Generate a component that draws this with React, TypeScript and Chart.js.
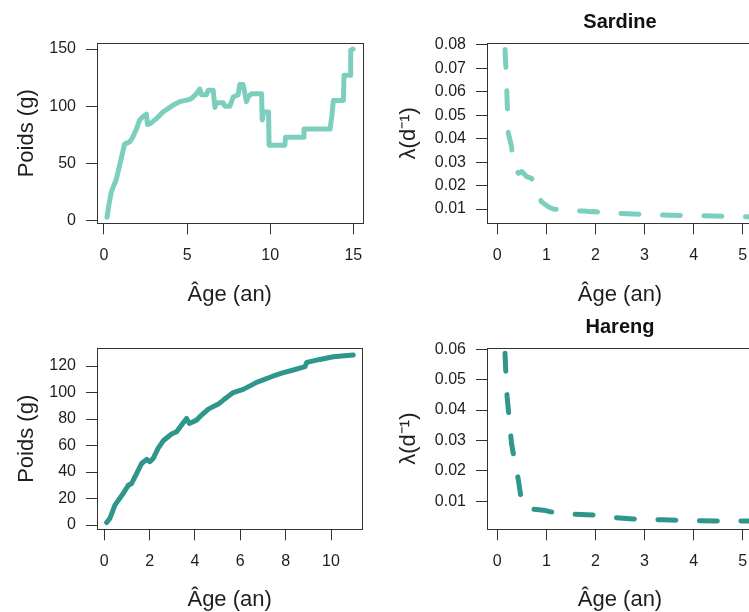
import { useEffect, useRef } from "react";
import { Chart, registerables } from "chart.js";

Chart.register(...registerables);

// ---------------- DATA ----------------
const sardineAge = [0.18, 0.3, 0.44, 0.6, 0.74, 1.0, 1.24, 1.4, 1.55, 1.7, 1.95, 2.15, 2.35, 2.55, 2.62, 2.8, 3.15, 3.55, 4.16, 4.56, 5.16, 5.36, 5.56, 5.76, 5.86, 6.16, 6.27, 6.57, 6.67, 6.77, 7.17, 7.27, 7.57, 7.77, 8.07, 8.17, 8.37, 8.57, 8.67, 8.88, 9.48, 9.52, 9.6, 9.9, 9.93, 10.88, 10.92, 11.99, 12.03, 13.6, 13.7, 13.8, 14.4, 14.44, 14.8, 14.84, 14.98];
const sardineWeight = [3, 14, 25, 31, 36, 52, 67, 68, 69, 72, 80, 88, 91, 93, 84, 85, 89, 95, 101, 104, 106, 108, 111, 115, 110, 110, 114, 114, 99, 103, 103, 100, 100, 108, 110, 119, 119, 104, 108, 111, 111, 88, 95, 95, 66, 66, 73, 73, 80, 80, 91, 105, 105, 127, 127, 149, 150];

const harengAge = [0.1, 0.25, 0.47, 0.84, 1.06, 1.21, 1.43, 1.65, 1.87, 2.01, 2.16, 2.38, 2.6, 2.97, 3.19, 3.41, 3.63, 3.75, 4.07, 4.29, 4.59, 5.03, 5.25, 5.69, 6.13, 6.72, 7.46, 7.9, 8.34, 8.85, 8.93, 9.51, 10.1, 10.98];
const harengWeight = [1.8, 5, 15, 24, 30, 31.4, 39, 46.5, 49.6, 47.8, 50.3, 58, 63.6, 68.7, 70.4, 75.5, 80.5, 76.7, 79.2, 83, 87.5, 91.3, 94.3, 100, 102.4, 107.7, 112.5, 115, 117, 119.5, 122.8, 125, 127, 128.3];

const sardineLambdaAge = [0.157, 0.177, 0.2, 0.225, 0.29, 0.31, 0.36, 0.43, 0.5, 0.6, 0.7, 0.84, 0.9, 1.04, 1.14, 1.55, 1.8, 1.9, 1.96, 2.36, 2.77, 3.38, 4.4, 5.08, 5.3];
const sardineLambda = [0.0781, 0.0693, 0.0565, 0.0423, 0.0366, 0.033, 0.028, 0.0252, 0.026, 0.0238, 0.0231, 0.016, 0.0131, 0.011, 0.01, 0.0093, 0.0091, 0.0088, 0.0089, 0.0082, 0.0079, 0.0074, 0.007, 0.0067, 0.0066];

const harengLambdaAge = [0.157, 0.177, 0.2, 0.245, 0.29, 0.36, 0.43, 0.48, 0.53, 0.67, 0.94, 1.07, 1.48, 1.96, 2.36, 2.77, 3.38, 4.06, 5.08, 5.3];
const harengLambda = [0.0587, 0.051, 0.0444, 0.0367, 0.029, 0.0225, 0.017, 0.0115, 0.0082, 0.0075, 0.0071, 0.0066, 0.0058, 0.0055, 0.0047, 0.0042, 0.0039, 0.0036, 0.0035, 0.0035];

const sardineAgeTicks = [0, 5, 10, 15];
const harengAgeTicks = [0, 2, 4, 6, 8, 10];
const lambdaAgeTicks = [0, 1, 2, 3, 4, 5];
const sardineWeightTicks = [0, 50, 100, 150];
const harengWeightTicks = [0, 20, 40, 60, 80, 100, 120];
const sardineLambdaTicks = [0.01, 0.02, 0.03, 0.04, 0.05, 0.06, 0.07, 0.08];
const harengLambdaTicks = [0.01, 0.02, 0.03, 0.04, 0.05, 0.06];

const titleSardine = "Sardine";
const titleHareng = "Hareng";
const xTitle = "Âge (an)";
const weightTitle = "Poids (g)";
const lambdaTitle = "λ(d⁻¹)";

// ---------------- STYLE ----------------
const W = 770;
const H = 612;
const FONT = "'Liberation Sans', Arial, Helvetica, sans-serif";
const TEXT = "#1e1e1e";
const AXIS = "#333333";
const SARDINE_COLOR = "#7ccfbf";
const HARENG_COLOR = "#2f968b";

type Box = { l: number; t: number; r: number; b: number };
type Spec = {
  xs: number[];
  ys: number[];
  color: string;
  dashed: boolean;
  xMin: number;
  xMax: number;
  yMin: number;
  yMax: number;
  xTicks: number[];
  yTicks: number[];
  yDecimals: number;
  yTitle: string;
  title?: string;
  box: Box;
  axisLeft: number;
  axisBottom: number;
  yTitleX: number;
  xTitleY: number;
  xTickPad: number;
};

function makeChart(canvas: HTMLCanvasElement, s: Spec) {
  const box = s.box;
  const yAxisWidth = box.l - s.axisLeft;
  const xAxisHeight = s.axisBottom - box.b;
  const titleHalf = 11;
  const boxPlugin = {
    id: "rbox",
    afterDraw(chart: any) {
      const { ctx, chartArea } = chart;
      const { left, top, right, bottom } = chartArea;
      ctx.save();
      ctx.strokeStyle = AXIS;
      ctx.lineWidth = 1;
      const l = Math.round(left) + 0.5;
      const t = Math.round(top) + 0.5;
      ctx.strokeRect(l, t, Math.round(right) - Math.round(left), Math.round(bottom) - Math.round(top));
      if (s.title) {
        ctx.font = `bold 20px ${FONT}`;
        ctx.fillStyle = "#111";
        ctx.textAlign = "center";
        ctx.textBaseline = "middle";
        ctx.fillText(s.title, (left + right) / 2, top - 20.5);
      }
      ctx.restore();
    },
  };
  const data = s.xs.map((x, i) => ({ x, y: s.ys[i] }));
  return new Chart(canvas, {
    type: "line",
    data: {
      datasets: [
        {
          data,
          borderColor: s.color,
          borderWidth: 5,
          borderCapStyle: "round",
          borderJoinStyle: "round",
          borderDash: s.dashed ? [18, 23.5] : [],
          pointRadius: 0,
          tension: 0,
          fill: false,
        },
      ],
    },
    options: {
      responsive: false,
      animation: false,
      events: [],
      layout: {
        padding: { left: s.axisLeft, top: box.t, right: W - box.r, bottom: H - s.axisBottom },
      },
      plugins: { legend: { display: false }, tooltip: { enabled: false }, title: { display: false } },
      scales: {
        x: {
          type: "linear",
          position: "bottom",
          min: s.xMin,
          max: s.xMax,
          bounds: "data",
          afterBuildTicks: (sc: any) => {
            sc.ticks = s.xTicks.map((v) => ({ value: v }));
          },
          afterFit: (sc: any) => {
            sc.height = xAxisHeight;
          },
          grid: { display: true, drawOnChartArea: false, drawTicks: true, tickLength: 11, color: AXIS, lineWidth: 1 },
          border: { display: false },
          ticks: {
            autoSkip: false,
            maxRotation: 0,
            padding: s.xTickPad,
            color: TEXT,
            font: { family: FONT, size: 16 },
            callback: (v: any) => String(v),
          },
          title: {
            display: true,
            text: xTitle,
            color: TEXT,
            font: { family: FONT, size: 22, lineHeight: 1 },
            padding: { top: 0, bottom: s.axisBottom - s.xTitleY - titleHalf },
          },
        },
        y: {
          type: "linear",
          position: "left",
          min: s.yMin,
          max: s.yMax,
          bounds: "data",
          afterBuildTicks: (sc: any) => {
            sc.ticks = s.yTicks.map((v) => ({ value: v }));
          },
          afterFit: (sc: any) => {
            sc.width = yAxisWidth;
          },
          grid: { display: true, drawOnChartArea: false, drawTicks: true, tickLength: 11, color: AXIS, lineWidth: 1 },
          border: { display: false },
          ticks: {
            autoSkip: false,
            padding: 10,
            color: TEXT,
            font: { family: FONT, size: 16 },
            callback: (v: any) => Number(v).toFixed(s.yDecimals),
          },
          title: {
            display: true,
            text: s.yTitle,
            color: TEXT,
            font: { family: FONT, size: 22, lineHeight: 1 },
            padding: { top: s.yTitleX - s.axisLeft - titleHalf, bottom: 0 },
          },
        },
      },
    },
    plugins: [boxPlugin],
  } as any);
}

const specs: Spec[] = [
  {
    xs: sardineAge,
    ys: sardineWeight,
    color: SARDINE_COLOR,
    dashed: false,
    xMin: -0.42,
    xMax: 15.55,
    yMin: -2.3,
    yMax: 155,
    xTicks: sardineAgeTicks,
    yTicks: sardineWeightTicks,
    yDecimals: 0,
    yTitle: weightTitle,
    box: { l: 97, t: 43.3, r: 362.5, b: 223.3 },
    axisLeft: 0,
    axisBottom: 320,
    yTitleX: 27,
    xTitleY: 295,
    xTickPad: 12,
  },
  {
    xs: sardineLambdaAge,
    ys: sardineLambda,
    color: SARDINE_COLOR,
    dashed: true,
    xMin: -0.21,
    xMax: 5.21,
    yMin: 0.0039,
    yMax: 0.0807,
    xTicks: lambdaAgeTicks,
    yTicks: sardineLambdaTicks,
    yDecimals: 2,
    yTitle: lambdaTitle,
    title: titleSardine,
    box: { l: 487, t: 43.3, r: 753, b: 223.3 },
    axisLeft: 374,
    axisBottom: 320,
    yTitleX: 409,
    xTitleY: 295,
    xTickPad: 12,
  },
  {
    xs: harengAge,
    ys: harengWeight,
    color: HARENG_COLOR,
    dashed: false,
    xMin: -0.32,
    xMax: 11.38,
    yMin: -3.2,
    yMax: 133.4,
    xTicks: harengAgeTicks,
    yTicks: harengWeightTicks,
    yDecimals: 0,
    yTitle: weightTitle,
    box: { l: 97, t: 348.3, r: 362.3, b: 529.3 },
    axisLeft: 0,
    axisBottom: 612,
    yTitleX: 27,
    xTitleY: 600,
    xTickPad: 12,
  },
  {
    xs: harengLambdaAge,
    ys: harengLambda,
    color: HARENG_COLOR,
    dashed: true,
    xMin: -0.21,
    xMax: 5.21,
    yMin: 0.0008,
    yMax: 0.0604,
    xTicks: lambdaAgeTicks,
    yTicks: harengLambdaTicks,
    yDecimals: 2,
    yTitle: lambdaTitle,
    title: titleHareng,
    box: { l: 487, t: 348, r: 753, b: 529.3 },
    axisLeft: 374,
    axisBottom: 612,
    yTitleX: 409,
    xTitleY: 600,
    xTickPad: 12,
  },
];

function Panel({ spec }: { spec: Spec }) {
  const ref = useRef<HTMLCanvasElement | null>(null);
  useEffect(() => {
    if (!ref.current) return;
    const chart = makeChart(ref.current, spec);
    return () => chart.destroy();
  }, [spec]);
  return (
    <canvas
      ref={ref}
      width={W}
      height={H}
      style={{ position: "absolute", left: 0, top: 0, width: W, height: H }}
    />
  );
}

export default function App() {
  return (
    <div
      style={{
        position: "fixed",
        left: 0,
        top: 0,
        width: 749,
        height: 612,
        overflow: "hidden",
        background: "#ffffff",
      }}
    >
      {specs.map((s, i) => (
        <Panel key={i} spec={s} />
      ))}
    </div>
  );
}
